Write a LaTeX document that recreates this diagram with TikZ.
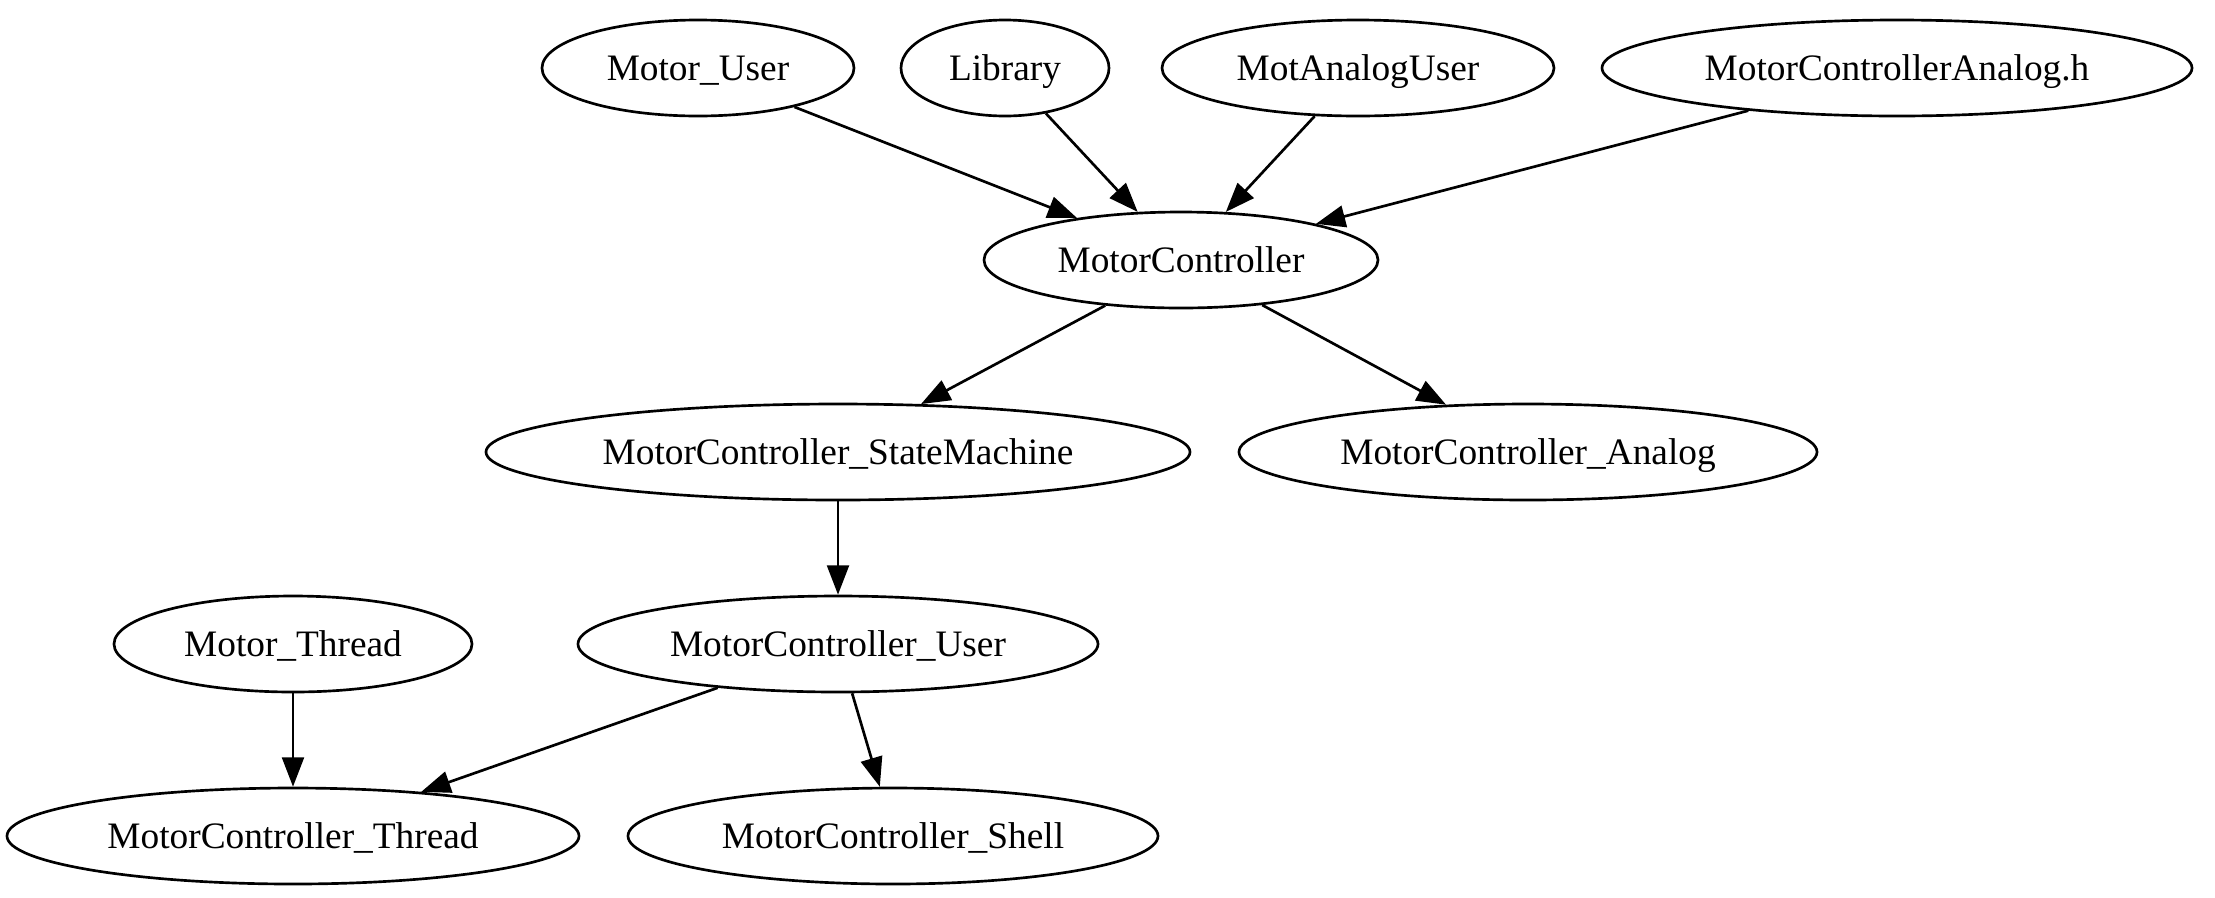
\documentclass[tikz,border=0pt]{standalone}
\usepackage{fontspec}
\setmainfont{Liberation Serif}
\usetikzlibrary{shapes.geometric,arrows.meta}
\begin{document}
\begin{tikzpicture}[x=0.375pt,y=-0.375pt,
  gnode/.style={draw,ellipse,line width=1pt,inner sep=0pt,minimum height=36pt,
    text height=9.3pt,text depth=0pt,font=\fontsize{14}{17}\selectfont},
  edge/.style={line width=1pt,-{Triangle[length=11pt,width=8.2pt]}}]
\useasboundingbox (0,0) rectangle (2215,897);
\node[gnode,minimum width=117pt]    (mu)  at (698,68)   {Motor\_User};
\node[gnode,minimum width=78pt]     (lib) at (1005,68)  {Library};
\node[gnode,minimum width=147pt]    (mau) at (1358,68)  {MotAnalogUser};
\node[gnode,minimum width=221.25pt] (mah) at (1897,68)  {MotorControllerAnalog.h};
\node[gnode,minimum width=147.75pt] (mc)  at (1181,260) {MotorController};
\node[gnode,minimum width=264pt]    (sm)  at (838,452)  {MotorController\_StateMachine};
\node[gnode,minimum width=216.75pt] (ma)  at (1528,452) {MotorController\_Analog};
\node[gnode,minimum width=134.25pt] (mt)  at (293,644)  {Motor\_Thread};
\node[gnode,minimum width=195pt]    (mcu) at (838,644)  {MotorController\_User};
\node[gnode,minimum width=214.5pt]  (mct) at (293,836)  {MotorController\_Thread};
\node[gnode,minimum width=198.75pt] (mcs) at (893,836)  {MotorController\_Shell};
\draw[edge] (mu.-22.5) -- (mc.158);
\draw[edge] (lib.-48) -- (mc.132);
\draw[edge] (mau.-132) -- (mc.47.5);
\draw[edge] (mah.-164) -- (mc.15);
\draw[edge] (mc.-149) -- (sm.30);
\draw[edge] (mc.-29) -- (ma.150);
\draw[edge] (sm.south) -- (mcu.north);
\draw[edge] (mt.south) -- (mct.north);
\draw[edge] (mcu.-160) -- (mct.19.5);
\draw[edge] (mcu.-74) -- (mcs.105);
\end{tikzpicture}
\end{document}
